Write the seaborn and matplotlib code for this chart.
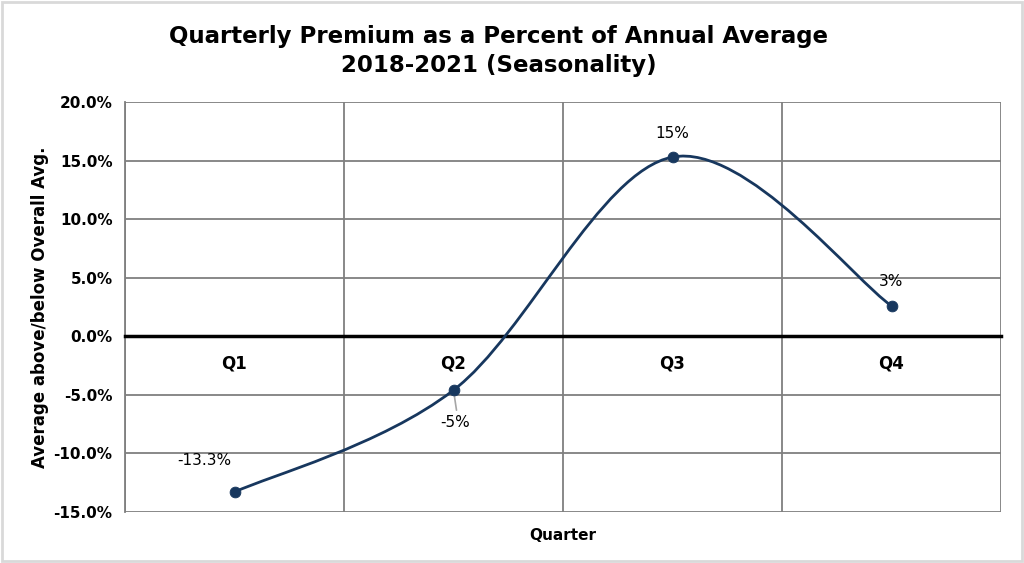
"""Quarterly premium seasonality chart."""

import matplotlib

matplotlib.use("Agg")
import matplotlib.pyplot as plt
import numpy as np
import pandas as pd
import seaborn as sns
from matplotlib.patches import PathPatch, Rectangle
from matplotlib.path import Path
from matplotlib.ticker import FuncFormatter, MultipleLocator

quarters = ["Q1", "Q2", "Q3", "Q4"]
premium_pct = [-13.3, -4.6, 15.3, 2.6]
point_labels = ["-13.3%", "-5%", "15%", "3%"]
y_ticks = [-15, -10, -5, 0, 5, 10, 15, 20]

LINE_COLOR = "#17375E"
GRID_COLOR = "#7F7F7F"
FONT = ["DejaVu Sans"]

df = pd.DataFrame({"quarter": quarters, "x": np.arange(len(quarters)), "pct": premium_pct})

sns.set_theme(style="white")
plt.rcParams["font.family"] = FONT
plt.rcParams["text.color"] = "black"
plt.rcParams["axes.labelcolor"] = "black"
plt.rcParams["xtick.color"] = "black"
plt.rcParams["ytick.color"] = "black"

fig = plt.figure(figsize=(10.24, 5.63), dpi=100)
ax = fig.add_axes([125 / 1024, 51 / 563, 876 / 1024, 410 / 563])

# outer chart border
fig.patches.append(Rectangle((0.002, 0.003), 0.996, 0.994, transform=fig.transFigure,
                             fill=False, edgecolor="#D9D9D9", linewidth=2))


def smooth_path(xs, ys):
    """Excel-like smoothed line as cubic Bezier segments."""
    pts = np.column_stack([xs, ys]).astype(float)
    n = len(pts)
    verts = [pts[0]]
    codes = [Path.MOVETO]
    for i in range(n - 1):
        p_prev = pts[max(i - 1, 0)]
        p0 = pts[i]
        p1 = pts[i + 1]
        p_next = pts[min(i + 2, n - 1)]
        c1 = p0 + (p1 - p_prev) / 6
        c2 = p1 - (p_next - p0) / 6
        verts += [c1, c2, p1]
        codes += [Path.CURVE4] * 3
    return Path(verts, codes)


ax.add_patch(PathPatch(smooth_path(df["x"], df["pct"]), fill=False,
                       edgecolor=LINE_COLOR, linewidth=2, zorder=4))
sns.scatterplot(data=df, x="x", y="pct", ax=ax, color=LINE_COLOR, s=60,
                edgecolor=LINE_COLOR, zorder=5, legend=False)

ax.set_xlim(-0.5, len(quarters) - 0.5)
ax.set_ylim(min(y_ticks), max(y_ticks))
ax.yaxis.set_major_locator(MultipleLocator(5))
ax.yaxis.set_major_formatter(FuncFormatter(lambda v, _: f"{v:.1f}%"))
ax.set_xticks(df["x"])
ax.set_xticklabels(quarters)
ax.set_xticks(np.arange(len(quarters) + 1) - 0.5, minor=True)

ax.grid(True, axis="y", which="major", color=GRID_COLOR, linewidth=1.3)
ax.grid(True, axis="x", which="minor", color=GRID_COLOR, linewidth=1.3)
ax.grid(False, axis="x", which="major")
ax.set_axisbelow(True)

for side in ["top", "right"]:
    ax.spines[side].set_visible(False)
ax.spines["left"].set_color(GRID_COLOR)
ax.spines["left"].set_linewidth(1.3)
ax.spines["bottom"].set_position(("data", 0))
ax.spines["bottom"].set_color("black")
ax.spines["bottom"].set_linewidth(2.5)
ax.spines["bottom"].set_zorder(3)

ax.tick_params(axis="x", which="both", length=0, pad=13, labelsize=12)
ax.tick_params(axis="y", length=5, width=1.3, color=GRID_COLOR, direction="out",
               pad=4, labelsize=11, labelcolor="black")
for lbl in ax.get_xticklabels() + ax.get_yticklabels():
    lbl.set_fontweight("bold")

ax.set_xlabel("Quarter", fontsize=11, fontweight="bold")
ax.xaxis.set_label_coords(0.5, -0.04)
ax.set_ylabel("Average above/below Overall Avg.", fontsize=12, fontweight="bold", labelpad=3)

offsets = [(-30, 32), (2, -32), (0, 24), (0, 24)]
for (x, y), lab, off in zip(zip(df["x"], df["pct"]), point_labels, offsets):
    ax.annotate(lab, (x, y), xytext=off, textcoords="offset pixels",
                ha="center", va="center", fontsize=11, color="black", zorder=6)
# leader line for the Q2 label
ax.annotate("", (df["x"][1], df["pct"][1]), xytext=(3, -20), textcoords="offset pixels",
            arrowprops=dict(arrowstyle="-", color="#A6A6A6", lw=1.2, shrinkA=0, shrinkB=0))

fig.suptitle("Quarterly Premium as a Percent of Annual Average\n2018-2021 (Seasonality)",
             x=0.487, y=0.955, fontsize=16.5, fontweight="bold", linespacing=1.3)

fig.savefig("out.png", dpi=100)
